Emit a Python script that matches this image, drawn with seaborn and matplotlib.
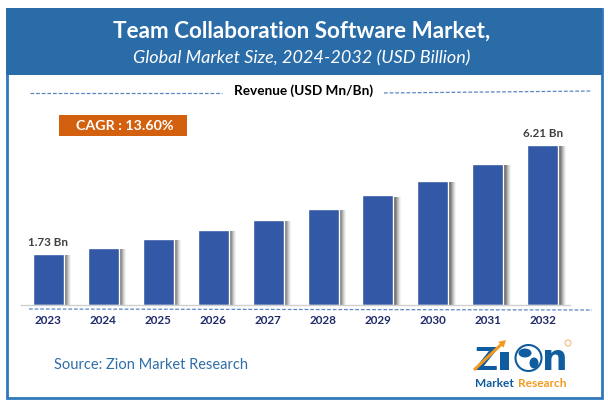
import numpy as np
import pandas as pd
import seaborn as sns
import matplotlib
matplotlib.use("Agg")
import matplotlib.pyplot as plt
import matplotlib.patheffects as pe
from matplotlib.patches import Rectangle, Circle, Ellipse, FancyArrow

years = ["2023", "2024", "2025", "2026", "2027", "2028", "2029", "2030", "2031", "2032"]
revenue = [1.73, 1.98, 2.35, 2.72, 3.13, 3.58, 4.15, 4.73, 5.43, 6.21]
first_label = "1.73 Bn"
last_label = "6.21 Bn"
title = "Team Collaboration Software Market,"
subtitle = "Global Market Size, 2024-2032 (USD Billion)"
unit_label = "Revenue (USD Mn/Bn)"
cagr_label = "CAGR : 13.60%"
source_label = "Source: Zion Market Research"

W, H = 608, 407
BLUE = "#2A6CA8"
BAR = "#3358A6"
NAVY = "#1F2A6B"
DASH = "#5B86C4"
FONT = "Lato"

sns.set_theme(style="white")
plt.rcParams["font.family"] = [FONT, "DejaVu Sans"]

fig = plt.figure(figsize=(W / 100, H / 100), dpi=100, facecolor="white")

page = fig.add_axes([0, 0, 1, 1], zorder=0)
page.set_xlim(0, W)
page.set_ylim(H, 0)
page.axis("off")
page.add_patch(Rectangle((7, 9), 594.5, 389, fc="white", ec="#2F78BC", lw=2))
page.add_patch(Rectangle((6, 8), 596, 67, fc=BLUE, ec="none"))
page.text(302, 31, title, color="white", fontsize=16.2, fontweight="bold", ha="center", va="center")
page.text(302, 58, subtitle, color="white", fontsize=13, style="italic", ha="center", va="center")
page.text(304, 91, unit_label, color="black", fontsize=9.8, fontweight="bold", ha="center", va="center")
page.plot([30, 222], [92.5, 92.5], color=DASH, lw=0.9, ls=(0, (3, 1.5)))
page.plot([384, 592], [93, 91], color=DASH, lw=0.9, ls=(0, (3, 1.5)))
page.add_patch(Rectangle((59, 115), 128, 21, fc="#D2600E", ec="none"))
page.text(124.5, 126, cagr_label, color="white", fontsize=10.3, fontweight="bold", ha="center", va="center")
page.plot([29, 592], [309, 310], color=DASH, lw=0.9, ls=(0, (3, 1.5)))
page.text(54, 365, source_label, color="#2F6DA8", fontsize=10.5, ha="left", va="center")

ax_left, ax_right, ax_top, ax_bottom = 20.8, 570.3, 100, 305
ax = fig.add_axes([ax_left / W, 1 - ax_bottom / H, (ax_right - ax_left) / W, (ax_bottom - ax_top) / H], zorder=1)
ax.patch.set_alpha(0)
base = -0.366
df = pd.DataFrame({"year": years, "revenue": revenue})
df["height"] = df["revenue"] - base
sns.barplot(data=df, x="year", y="height", bottom=base, color=BAR, saturation=1, width=0.565, ax=ax)
ax.set_ylim(base, 8.06)
ax.set_xlim(-0.5, 9.5)
shadow = [pe.SimplePatchShadow(offset=(o, -1.0), shadow_rgbFace="#333333", alpha=a)
          for o, a in [(5.2, 0.06), (4.5, 0.09), (3.8, 0.13), (3.1, 0.17), (2.4, 0.22), (1.7, 0.26), (1.0, 0.3)]]
for p in ax.patches:
    p.set_path_effects(shadow + [pe.Normal()])
ax.set_xlabel("")
ax.set_ylabel("")
ax.set_yticks([])
ax.tick_params(axis="x", length=0, pad=7)
for lab in ax.get_xticklabels():
    lab.set_color(NAVY)
    lab.set_fontweight("bold")
    lab.set_fontsize(8.4)
for s in ["top", "left", "right"]:
    ax.spines[s].set_visible(False)
ax.spines["bottom"].set_color("#D0D0D0")
ax.spines["bottom"].set_linewidth(1)
ax.annotate(first_label, (0, revenue[0]), xytext=(0, 4), textcoords="offset points", ha="center", va="bottom",
            fontsize=8.4, fontweight="bold", color="#404040")
ax.annotate(last_label, (9, revenue[-1]), xytext=(0, 4), textcoords="offset points", ha="center", va="bottom",
            fontsize=8.4, fontweight="bold", color="#404040")

# logo
LOGO = "#0F5C9E"
ORANGE = "#F39A1E"
page.text(486, 370, "Z", color=LOGO, fontsize=23, fontweight="bold", family="DejaVu Sans", ha="center", va="baseline")
page.add_patch(Rectangle((500, 352), 9, 18, fc=LOGO, ec="none"))
page.add_patch(Circle((528.5, 358), 13, fc="white", ec=LOGO, lw=1.5, zorder=3))
page.add_patch(Ellipse((525, 353), 13, 9, fc=LOGO, ec="none", zorder=4))
page.add_patch(Ellipse((534, 363), 9, 11, fc=LOGO, ec="none", zorder=4))
page.text(555, 369.5, "n", color=LOGO, fontsize=26, fontweight="bold", family="Liberation Sans Narrow", ha="center", va="baseline")
page.add_patch(FancyArrow(474, 370, 32, -30, width=3, head_width=8, head_length=7, length_includes_head=True,
                          fc=ORANGE, ec="none", zorder=5))
page.text(514, 383.5, "Market", color=LOGO, fontsize=8.6, fontweight="bold", ha="right", va="center")
page.text(518, 383.5, "Research", color=ORANGE, fontsize=8.6, fontweight="bold", ha="left", va="center")
page.add_patch(Circle((568, 343), 3, fc="none", ec="#F3B878", lw=0.8))

fig.savefig("out.png", dpi=100, facecolor="white")
